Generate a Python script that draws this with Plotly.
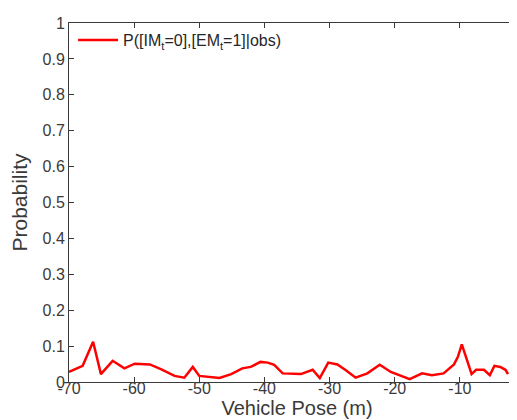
import plotly.graph_objects as go

pose = [-70.0, -67.9, -66.3, -65.1, -63.3, -61.5, -59.9, -57.6, -55.9, -53.8,
        -52.3, -51.0, -50.0, -48.7, -46.9, -45.1, -43.4, -42.1, -40.6, -39.5,
        -38.5, -37.2, -35.4, -34.4, -32.6, -31.5, -30.2, -28.8, -27.5, -26.0,
        -24.2, -22.3, -20.6, -19.1, -17.7, -15.8, -14.3, -12.5, -10.9, -10.3,
        -9.7, -8.9, -8.2, -7.5, -6.3, -5.4, -4.7, -3.8, -3.0, -2.6]
prob = [0.028, 0.045, 0.112, 0.022, 0.059, 0.038, 0.051, 0.049, 0.036, 0.017,
        0.012, 0.042, 0.017, 0.014, 0.011, 0.022, 0.038, 0.042, 0.056, 0.054,
        0.048, 0.024, 0.022, 0.022, 0.034, 0.011, 0.054, 0.049, 0.033, 0.012,
        0.024, 0.048, 0.028, 0.017, 0.008, 0.024, 0.019, 0.024, 0.049, 0.070,
        0.105, 0.061, 0.022, 0.034, 0.034, 0.019, 0.045, 0.042, 0.034, 0.022]

series_name = "P([IM<sub>t</sub>=0],[EM<sub>t</sub>=1]|obs)"
x_ticks = [-70, -60, -50, -40, -30, -20, -10, 0]
y_ticks = [0, 0.1, 0.2, 0.3, 0.4, 0.5, 0.6, 0.7, 0.8, 0.9, 1]
y_tick_text = ["0", "0.1", "0.2", "0.3", "0.4", "0.5", "0.6", "0.7", "0.8", "0.9", "1"]

axis_col = "#3a3a3a"
font_family = "Liberation Sans, Arial, sans-serif"

fig = go.Figure()
fig.add_trace(go.Scatter(x=pose, y=prob, mode="lines", name=series_name,
                         line=dict(color="#ff0000", width=2.5)))

fig.update_layout(
    width=517, height=420,
    margin=dict(l=61, r=0, t=15, b=46),
    paper_bgcolor="white", plot_bgcolor="white",
    font=dict(family=font_family, size=16, color=axis_col),
    showlegend=True,
    legend=dict(x=0.009, y=1.0, xanchor="left", yanchor="top",
                bgcolor="rgba(0,0,0,0)", borderwidth=0,
                font=dict(size=16, color="#262626"), itemwidth=40,
                tracegroupgap=0),
)
fig.update_xaxes(
    range=[-70, 0], tickvals=x_ticks, ticktext=[str(v) for v in x_ticks],
    showgrid=False, zeroline=False, showline=True, linecolor=axis_col, linewidth=1,
    mirror="allticks", ticks="inside", ticklen=5, tickcolor=axis_col,
    ticklabelstandoff=-8,
    title=dict(text="Vehicle Pose (m)", font=dict(size=20), standoff=2),
)
fig.update_yaxes(
    range=[0, 1], tickvals=y_ticks, ticktext=y_tick_text,
    showgrid=False, zeroline=False, showline=True, linecolor=axis_col, linewidth=1,
    mirror="allticks", ticks="inside", ticklen=5, tickcolor=axis_col,
    title=dict(text="Probability", font=dict(size=21), standoff=15),
)

fig.write_html("out.html")
